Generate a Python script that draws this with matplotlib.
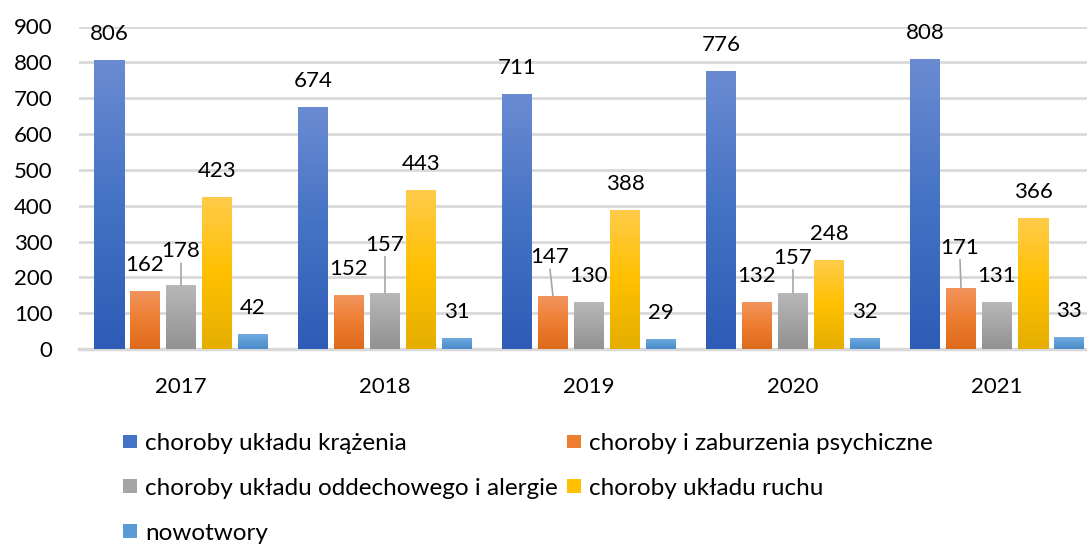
import numpy as np
import matplotlib
matplotlib.use('Agg')
import matplotlib.pyplot as plt
from matplotlib.colors import LinearSegmentedColormap
from matplotlib.patches import Patch

plt.rcParams['font.family'] = ['Lato', 'DejaVu Sans']

# data
years = ['2017', '2018', '2019', '2020', '2021']
series_names = ['choroby układu krążenia', 'choroby i zaburzenia psychiczne',
                'choroby układu oddechowego i alergie', 'choroby układu ruchu',
                'nowotwory']
krazenia = [806, 674, 711, 776, 808]
psychiczne = [162, 152, 147, 132, 171]
oddechowe = [178, 157, 130, 157, 131]
ruchu = [423, 443, 388, 248, 366]
nowotwory = [42, 31, 29, 32, 33]
all_series = [krazenia, psychiczne, oddechowe, ruchu, nowotwory]

# gradient fills (top, middle, bottom)
grads = [('#6A8BD2', '#4472C4', '#2E5CB6'),
         ('#F2955E', '#ED7D31', '#DE6A1C'),
         ('#B8B8B8', '#A5A5A5', '#929292'),
         ('#FFCB4A', '#FFC000', '#E5AE00'),
         ('#74ACE2', '#5B9BD5', '#4C8CCB')]

# label nudges in pixels (dx, rise above bar top)
default_rise = 26
moved = {(0, 2): (0, 34), (1, 2): (0, 48), (2, 1): (-3, 39),
         (3, 2): (0, 35), (4, 1): (-1, 40)}

fig = plt.figure(figsize=(10.87, 5.47), dpi=100)
ax = fig.add_axes([79 / 1087, 1 - 349 / 547, 1020 / 1087, 322.5 / 547])

x = np.arange(len(years))
step = 36 / 204
width = 30 / 204

ax.set_xlim(-0.5, 4.5)
ax.set_ylim(0, 900)
ax.set_yticks(np.arange(0, 1000, 100))
ax.yaxis.grid(True, color='#D9D9D9', linewidth=2)
ax.set_axisbelow(True)
for s in ['top', 'right', 'left']:
    ax.spines[s].set_visible(False)
ax.spines['bottom'].set_color('#D9D9D9')
ax.spines['bottom'].set_linewidth(2.5)
ax.tick_params(axis='both', length=0, labelsize=16, colors='black')
ax.tick_params(axis='y', pad=19)
ax.tick_params(axis='x', pad=20)
ax.set_xticks(x)
ax.set_xticklabels(years)

px = 72 / 100  # points per pixel

for j, vals in enumerate(all_series):
    offs = x + (j - 2) * step
    bars = ax.bar(offs, vals, width=width, color=grads[j][1], zorder=2)
    cmap = LinearSegmentedColormap.from_list('g%d' % j, list(grads[j]))
    for i, b in enumerate(bars):
        bx, by = b.get_x(), b.get_y()
        bw, bh = b.get_width(), b.get_height()
        im = ax.imshow(np.linspace(0, 1, 100).reshape(-1, 1), cmap=cmap, aspect='auto',
                       extent=[bx, bx + bw, by, by + bh], origin='upper', zorder=3)
        im.set_clip_path(b)
        b.set_facecolor('none')

        dx, rise = moved.get((i, j), (0, default_rise))
        ax.annotate(str(vals[i]), xy=(offs[i], vals[i]), xytext=(dx * px, rise * px),
                    textcoords='offset points', ha='center', va='center',
                    fontsize=16, zorder=5)
        if (i, j) in moved:
            ax.annotate('', xy=(offs[i], vals[i]),
                        xytext=(dx * px, (rise - 12) * px), textcoords='offset points',
                        arrowprops=dict(arrowstyle='-', color='#A6A6A6', lw=1.2,
                                        shrinkA=0, shrinkB=0), zorder=4)

ax.set_ylim(0, 900)

# legend filled row by row like the original (matplotlib fills by column)
order = [0, 2, 4, 1, 3]
handles = [Patch(facecolor=grads[k][1], edgecolor='none') for k in order]
labels = [series_names[k] for k in order]
fig.legend(handles, labels, loc='upper left', bbox_to_anchor=(111 / 1087, 1 - 421 / 547),
           ncol=2, frameon=False, fontsize=17.5, handlelength=0.58, handleheight=0.5,
           handletextpad=0.33, columnspacing=0.35, labelspacing=0.98, borderpad=0)

fig.savefig('out.png', dpi=100)
